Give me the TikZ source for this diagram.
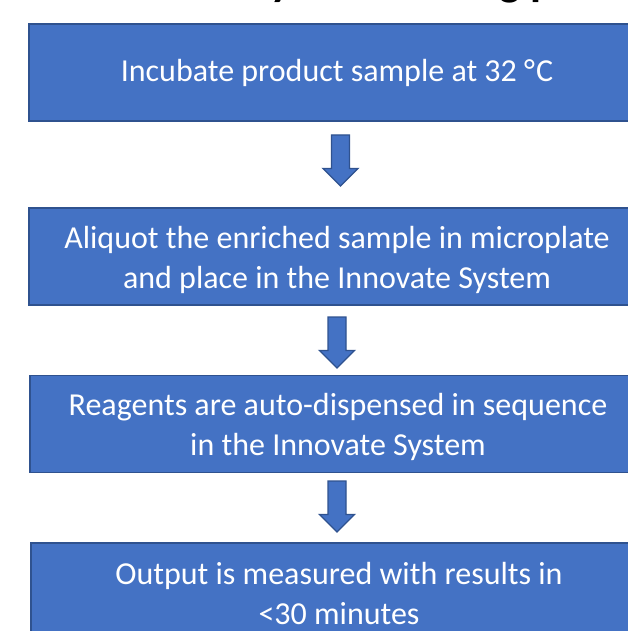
\documentclass[tikz,border=0pt]{standalone}
\usepackage{fontspec}
\setmainfont{Carlito}
\definecolor{boxfill}{HTML}{4472C4}
\definecolor{boxline}{HTML}{2F528F}
\tikzset{
  stepbox/.style={draw=boxline, fill=boxfill, line width=1.6pt,
    minimum width=616pt, minimum height=97pt, inner sep=0pt},
  steptext/.style={text=white, align=center, inner sep=0pt,
    font=\fontsize{32}{40}\selectfont},
  arrowstyle/.style={draw=boxline, fill=boxfill, line width=1.3pt, line join=miter},
  downarrow/.pic={\draw[arrowstyle] (-9,0) -- (9,0) -- (9,33.5) -- (17.5,33.5) -- (0,51) -- (-17.5,33.5) -- (-9,33.5) -- cycle;}
}
\begin{document}
\begin{tikzpicture}[x=1pt,y=-1pt]
\useasboundingbox (0,0) rectangle (628,631);
\clip (0,0) rectangle (628,631);
\node[anchor=base west, inner sep=0pt, font=\fontsize{45}{54}\selectfont\bfseries] (title) at (250,-4.5) {System testing process};
\node[stepbox] (b1) at (337,72.5) {};
\node[steptext] (t1) at (b1.center) {Incubate product sample at 32 °\kern1pt C};
\node[stepbox] (b2) at (337,256.5) {};
\node[steptext, yshift=-3pt] (t2) at (b2.center) {Aliquot the enriched sample in microplate\\and place in the Innovate System};
\node[stepbox] (b3) at (338,424) {};
\node[steptext, yshift=-3pt] (t3) at (b3.center) {Reagents are auto-dispensed in sequence\\in the Innovate System};
\node[stepbox] (b4) at (339,591.5) {};
\node[steptext, yshift=-2pt] (t4) at (b4.center) {Output is measured with results in\\<30 minutes};
\pic at (340.5,135) {downarrow};
\pic at (337,317) {downarrow};
\pic at (337,481) {downarrow};
\end{tikzpicture}
\end{document}
